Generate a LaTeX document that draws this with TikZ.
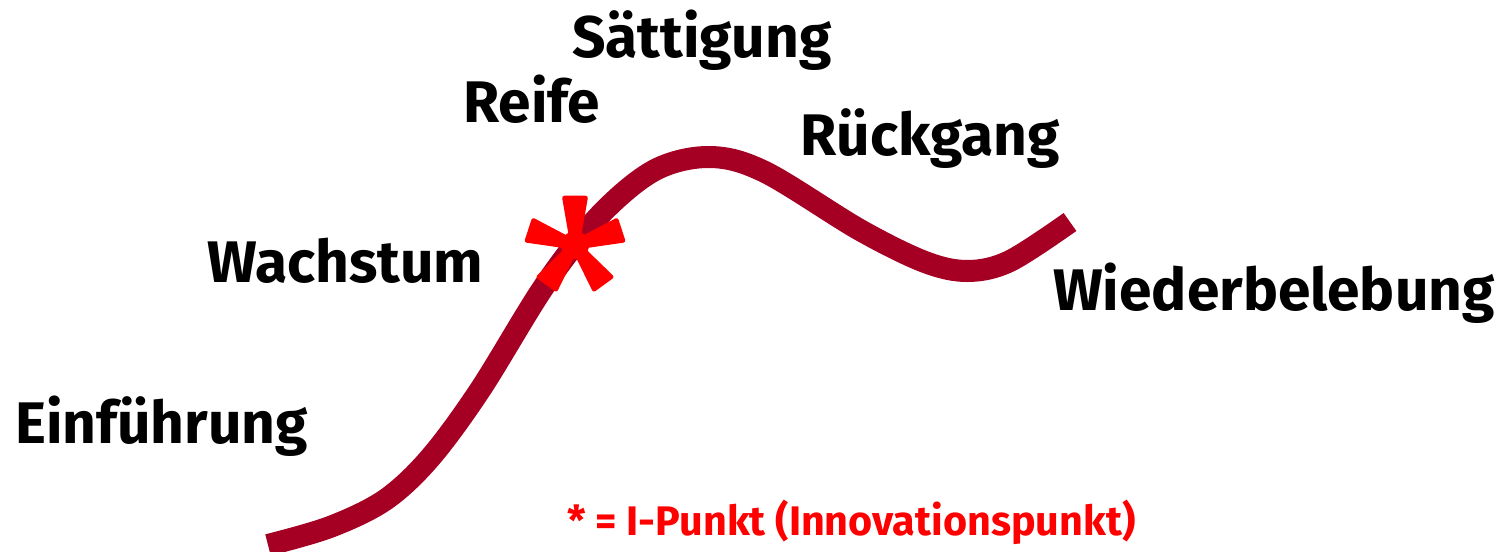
\documentclass[tikz,border=0pt]{standalone}
\usepackage{fontspec}
\setmainfont{Fira Sans}
\begin{document}
\begin{tikzpicture}[x=0.75pt,y=-0.75pt,
  lbl/.style={anchor=base west,inner sep=0pt,font=\fontsize{44}{50}\selectfont\bfseries,text=black},
  note/.style={anchor=base west,inner sep=0pt,font=\fontsize{31}{36}\selectfont\bfseries,text=red},
  curve/.style={draw=cycred,line width=16.5pt,line cap=butt}]
\definecolor{cycred}{RGB}{165,0,36}
\useasboundingbox (0,0) rectangle (1497,551);
\draw[curve] plot[smooth,tension=0.55] coordinates {(268,545) (330,527) (385,500) (430,458) (480,390) (545,285) (600,215) (655,170) (710,157) (765,172) (860,230) (925,262) (968,271) (1010,261) (1070,222)};
% asterisk
\begin{scope}[shift={(575,245)}]
\foreach \a in {270,198,342,126,54}{
  \fill[red,rounded corners=2pt] (\a-45:8) -- (\a-15:51) -- (\a+15:51) -- (\a+45:8) -- cycle;
}
\fill[red] (0,0) circle (14);
\end{scope}
\node[lbl] (s) at (572,57) {Sättigung};
\node[lbl] (r) at (463,122) {Reife};
\node[lbl] (rg) at (800,155) {Rückgang};
\node[lbl] (w) at (207,282) {Wachstum};
\node[lbl] (wb) at (1053,310) {Wiederbelebung};
\node[lbl] (e) at (15,443) {Einführung};
\node[note] (n) at (567,535) {* = I-Punkt (Innovationspunkt)};
\end{tikzpicture}
\end{document}
